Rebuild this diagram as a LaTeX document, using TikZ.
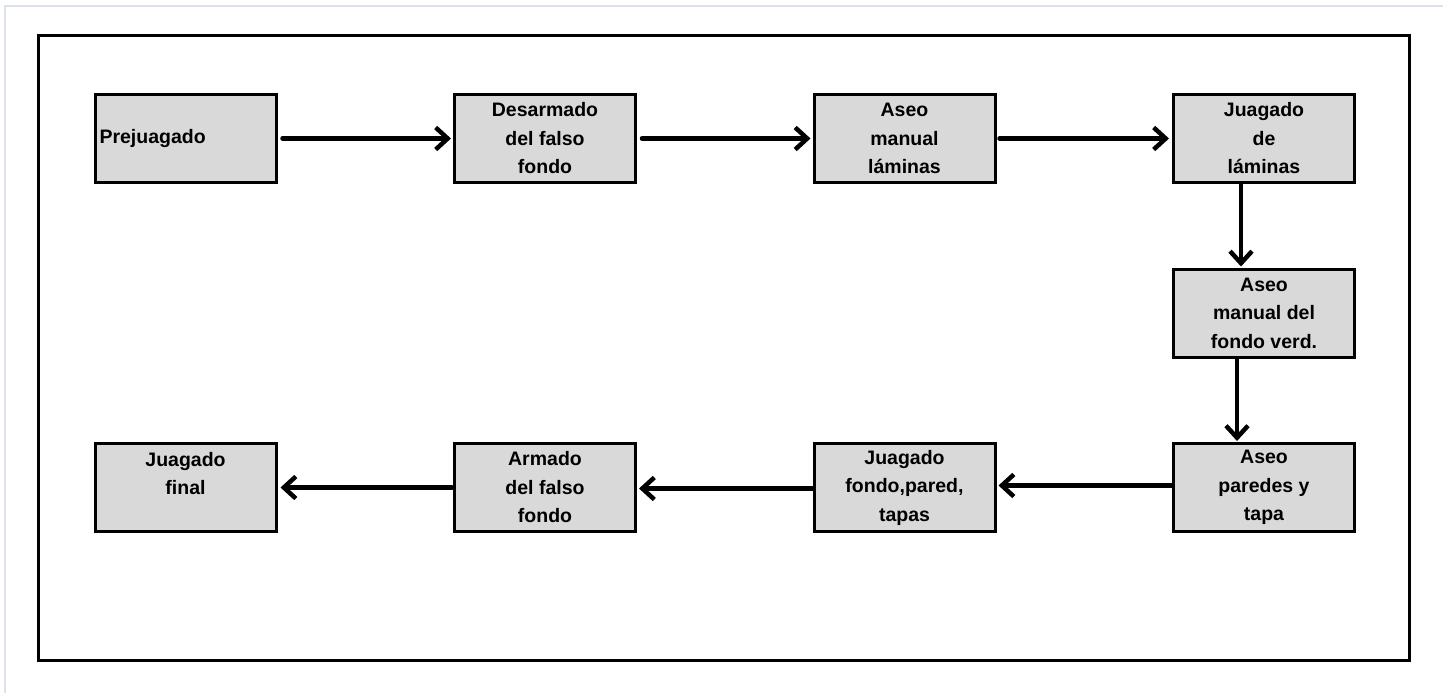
\documentclass[tikz,border=0pt]{standalone}
\usepackage{fontspec}
\setmainfont{Liberation Sans}
\usetikzlibrary{arrows.meta}

\definecolor{edgegray}{HTML}{DCE1EE}
\definecolor{boxgray}{HTML}{D9D9D9}

\begin{document}
\begin{tikzpicture}[ x=1pt, y=-1pt, >={Straight Barb[length=12pt,width=22pt]},
    stepbox/.style={draw, line width=3pt, fill=boxgray, minimum width=181pt, minimum height=88pt,
      inner sep=0pt, align=center, font=\bfseries\fontsize{19.5}{28.5}\selectfont},
    flow/.style={->, line width=4.5pt, line cap=round} ]
    \useasboundingbox (0,0) rectangle (1453,693);

    % Page edge and frame
    \draw[edgegray, line width=1.5pt] (1443,6) -- (5,6) -- (5,693);
    \draw[line width=3pt] (38.5,36) rectangle (1409,660.5);

    % Boxes
    \node[stepbox, align=left, text width=172pt] (prej) at (185.5,138.5) {Prejuagado};
    \node[stepbox] (desar) at (545,138.5) {Desarmado\\del falso\\fondo};
    \node[stepbox] (aseol) at (904.5,138.5) {Aseo\\manual\\láminas};
    \node[stepbox] (juagl) at (1264,138.5) {Juagado\\de\\láminas};
    \node[stepbox] (aseof) at (1264,313) {Aseo\\manual del\\fondo verd.};
    \node[stepbox] (aseop) at (1264,487.5) {Aseo\\paredes y\\tapa};
    \node[stepbox] (juagf) at (904.5,487.5) {Juagado\\fondo,pared,\\tapas};
    \node[stepbox] (armad) at (545,487.5) {Armado\\del falso\\fondo};
    \node[stepbox] (final) at (185.5,487.5) {Juagado\\final\\~};

    % Arrows
    \draw[flow, shorten <=5pt, shorten >=2pt] (prej.east) -- (desar.west);
    \draw[flow, shorten <=5pt, shorten >=2pt] (desar.east) -- (aseol.west);
    \draw[flow, shorten <=3pt, shorten >=3pt] (aseol.east) -- (juagl.west);
    \draw[flow, shorten >=1pt] ([xshift=-23pt]juagl.south) -- ([xshift=-23pt]aseof.north);
    \draw[flow, shorten >=1pt] ([xshift=-27pt]aseof.south) -- ([xshift=-27pt]aseop.north);
    \draw[flow, shorten >=2pt] ([yshift=2pt]aseop.west) -- ([yshift=2pt]juagf.east);
    \draw[flow, shorten >=2pt] ([yshift=-1pt]juagf.west) -- ([yshift=-1pt]armad.east);
    \draw[flow, shorten <=1pt, shorten >=3pt] (armad.west) -- (final.east);
  \end{tikzpicture}
\end{document}
